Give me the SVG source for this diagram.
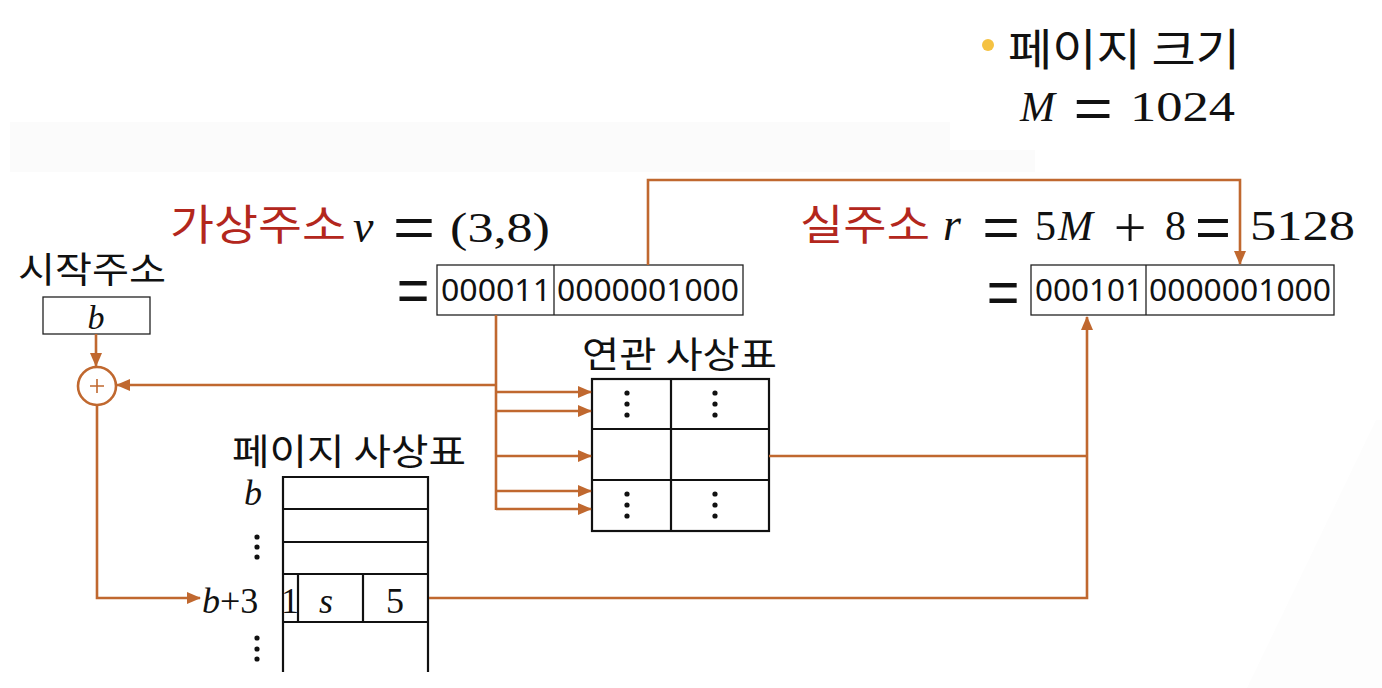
<svg xmlns="http://www.w3.org/2000/svg" width="1382" height="688" viewBox="0 0 1382 688">
<style>
.ko{font-family:"Noto Sans CJK KR","Noto Sans",sans-serif;fill:#111}
.red{fill:#b3271d}
.m{font-family:"Liberation Serif","DejaVu Serif",serif;fill:#111}
.i{font-style:italic}
.eq{font-family:"Liberation Sans","Arial",sans-serif;fill:#111;font-size:56px;text-anchor:middle}
.pl{font-family:"Liberation Serif",serif;fill:#111;font-size:58px;text-anchor:middle}
.bin{font-family:"Noto Sans","Open Sans",sans-serif;font-size:31px;fill:#111}
.box{fill:#fff;stroke:#222;stroke-width:1.3}
.tbl{fill:#fff;stroke:#111;stroke-width:2.2}
.tl{stroke:#111;stroke-width:2.2}
.con{fill:none;stroke:#c0682f;stroke-width:2.6}
</style>
<defs>
<marker id="ah" markerUnits="userSpaceOnUse" markerWidth="14" markerHeight="12" refX="13" refY="6" orient="auto">
<path d="M0,0 L14,6 L0,12 Z" fill="#c0682f"/>
</marker>
</defs>
<rect width="1382" height="688" fill="#fff"/>
<rect x="10" y="122" width="940" height="50" fill="#fbfbfb"/>
<rect x="10" y="150" width="1025" height="22" fill="#fbfbfb"/>
<polygon points="1376,420 1382,420 1382,688 1247,688" fill="#fdfdfd"/>

<g id="page-size">
<circle cx="988" cy="45" r="6" fill="#f5c242"/>
<text class="ko" x="1008" y="66" font-size="44" textLength="232" lengthAdjust="spacingAndGlyphs">페이지 크기</text>
<text class="m i" x="1020" y="121" font-size="42">M</text>
<text class="eq" transform="translate(1093,107) scale(1.2,1)" y="20">=</text>
<text class="m" x="1130" y="121" font-size="42" textLength="105" lengthAdjust="spacingAndGlyphs">1024</text>
</g>

<g id="virtual-address">
<text class="ko red" x="170" y="240" font-size="42" textLength="176" lengthAdjust="spacingAndGlyphs">가상주소</text>
<text class="m i" x="353" y="242" font-size="46">v</text>
<text class="eq" transform="translate(414,226) scale(1.3,1)" y="20">=</text>
<text class="m" x="450" y="242" font-size="42" textLength="100" lengthAdjust="spacingAndGlyphs">(3,8)</text>
<text class="eq" transform="translate(413,289) scale(1.0,1.1)" y="20">=</text>
<rect class="box" x="437" y="265" width="306" height="50"/>
<line x1="554" y1="265" x2="554" y2="315" stroke="#222" stroke-width="1.3"/>
<text class="bin" x="441" y="301" textLength="110" lengthAdjust="spacingAndGlyphs">000011</text>
<text class="bin" x="557" y="301" textLength="182" lengthAdjust="spacingAndGlyphs">0000001000</text>
</g>

<g id="real-address">
<text class="ko red" x="800" y="240" font-size="42" textLength="130" lengthAdjust="spacingAndGlyphs">실주소</text>
<text class="m i" x="943" y="240" font-size="46">r</text>
<text class="eq" transform="translate(1001,226) scale(1.15,1)" y="20">=</text>
<text class="m" x="1035" y="240" font-size="42">5</text>
<text class="m i" x="1058" y="240" font-size="42">M</text>
<text class="pl" x="1130" y="247">+</text>
<text class="m" x="1165" y="240" font-size="42">8</text>
<text class="eq" transform="translate(1213,226) scale(1.1,1)" y="20">=</text>
<text class="m" x="1250" y="240" font-size="42" textLength="105" lengthAdjust="spacingAndGlyphs">5128</text>
<text class="eq" transform="translate(1003,291) scale(1.0,1.1)" y="20">=</text>
<rect class="box" x="1031" y="265" width="303" height="50"/>
<line x1="1146" y1="265" x2="1146" y2="315" stroke="#222" stroke-width="1.3"/>
<text class="bin" x="1035" y="301" textLength="108" lengthAdjust="spacingAndGlyphs">000101</text>
<text class="bin" x="1149" y="301" textLength="182" lengthAdjust="spacingAndGlyphs">0000001000</text>
</g>

<g id="start-address">
<text class="ko" x="18" y="283" font-size="36" textLength="148" lengthAdjust="spacingAndGlyphs">시작주소</text>
<rect class="box" x="43" y="297" width="107" height="37"/>
<text class="m i" x="96" y="329" font-size="34" text-anchor="middle">b</text>
</g>

<g id="adder">
<circle cx="97" cy="386" r="19" fill="#fff" stroke="#c0682f" stroke-width="2.6"/>
<path d="M90,386 H104 M97,379 V393" stroke="#c0682f" stroke-width="1.6" fill="none"/>
</g>

<g id="assoc-table">
<text class="ko" x="582" y="368" font-size="36" textLength="195" lengthAdjust="spacingAndGlyphs">연관 사상표</text>
<rect class="tbl" x="592" y="379" width="177" height="152"/>
<line class="tl" x1="671" y1="379" x2="671" y2="531"/>
<line class="tl" x1="592" y1="429" x2="769" y2="429"/>
<line class="tl" x1="592" y1="480" x2="769" y2="480"/>
<g fill="#111">
<circle cx="627" cy="393" r="2.6"/><circle cx="627" cy="404" r="2.6"/><circle cx="627" cy="415" r="2.6"/>
<circle cx="715" cy="393" r="2.6"/><circle cx="715" cy="404" r="2.6"/><circle cx="715" cy="415" r="2.6"/>
<circle cx="627" cy="494" r="2.6"/><circle cx="627" cy="505" r="2.6"/><circle cx="627" cy="516" r="2.6"/>
<circle cx="715" cy="494" r="2.6"/><circle cx="715" cy="505" r="2.6"/><circle cx="715" cy="516" r="2.6"/>
</g>
</g>

<g id="page-table">
<text class="ko" x="232" y="465" font-size="36" textLength="234" lengthAdjust="spacingAndGlyphs">페이지 사상표</text>
<rect x="283" y="477" width="145" height="195" fill="#fff" stroke="none"/>
<line class="tl" x1="283" y1="476" x2="283" y2="672"/>
<line class="tl" x1="428" y1="476" x2="428" y2="672"/>
<line class="tl" x1="283" y1="477" x2="428" y2="477"/>
<line class="tl" x1="283" y1="509" x2="428" y2="509"/>
<line class="tl" x1="283" y1="542" x2="428" y2="542"/>
<line class="tl" x1="283" y1="574" x2="428" y2="574"/>
<line class="tl" x1="283" y1="622" x2="428" y2="622"/>
<line class="tl" x1="298" y1="574" x2="298" y2="622"/>
<line class="tl" x1="363" y1="574" x2="363" y2="622"/>
<text class="m" x="290" y="613" font-size="36" text-anchor="middle">1</text>
<text class="m i" x="326" y="613" font-size="36" text-anchor="middle">s</text>
<text class="m" x="395" y="613" font-size="36" text-anchor="middle">5</text>
<text class="m i" x="253" y="505" font-size="36" text-anchor="middle">b</text>
<text class="m" x="202" y="613" font-size="36"><tspan class="i">b</tspan>+3</text>
<g fill="#111">
<circle cx="257" cy="537" r="2.6"/><circle cx="257" cy="547" r="2.6"/><circle cx="257" cy="557" r="2.6"/>
<circle cx="257" cy="638" r="2.6"/><circle cx="257" cy="649" r="2.6"/><circle cx="257" cy="659" r="2.6"/>
</g>
</g>

<g id="connectors">
<path class="con" d="M96,334 V366" marker-end="url(#ah)"/>
<path class="con" d="M496,385 H117" marker-end="url(#ah)"/>
<path class="con" d="M496,315 V510"/>
<path class="con" d="M496,392 H591" marker-end="url(#ah)"/>
<path class="con" d="M496,411 H591" marker-end="url(#ah)"/>
<path class="con" d="M496,456 H591" marker-end="url(#ah)"/>
<path class="con" d="M496,491 H591" marker-end="url(#ah)"/>
<path class="con" d="M496,509 H591" marker-end="url(#ah)"/>
<path class="con" d="M648,265 V180 H1240 V264" marker-end="url(#ah)"/>
<path class="con" d="M97,405 V598 H200" marker-end="url(#ah)"/>
<path class="con" d="M769,456 H1087"/>
<path class="con" d="M429,598 H1087 V317" marker-end="url(#ah)"/>
</g>
</svg>
